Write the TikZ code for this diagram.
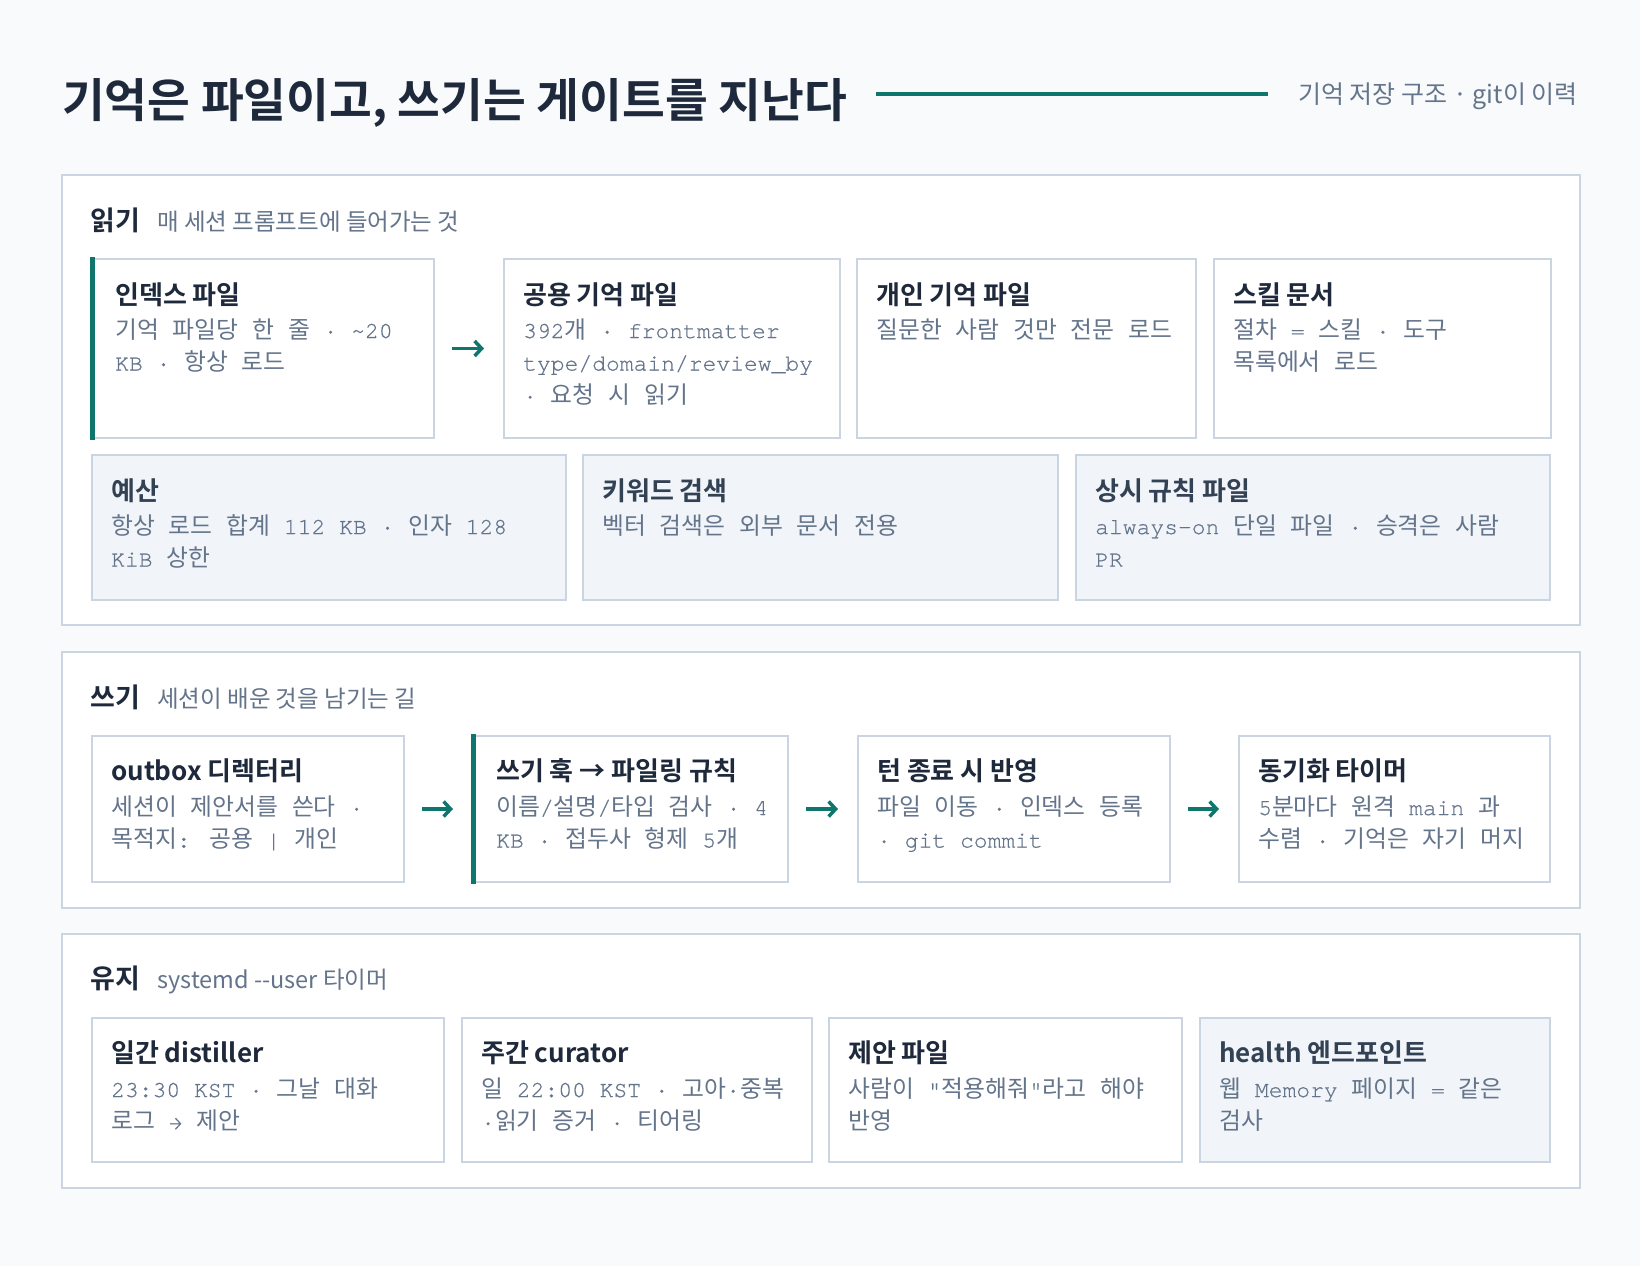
\documentclass[tikz,border=0pt]{standalone}
\usepackage{fontspec}
\setmainfont{Noto Sans CJK KR}[BoldFont={Noto Sans CJK KR Bold}]
\newfontfamily\krfont{Noto Sans CJK KR}[Scale=1.035]
\IfFontExistsTF{TeX Gyre Cursor}{\newfontfamily\cursorfont{TeX Gyre Cursor}[FakeBold=0.6]}{\newfontfamily\cursorfont{Liberation Mono}}
\usetikzlibrary{arrows.meta,calc}
\definecolor{pagebg}{HTML}{F8FAFC}
\definecolor{bordc}{HTML}{CBD5E1}
\definecolor{fillc}{HTML}{F1F5F9}
\definecolor{tealc}{HTML}{0F766E}
\definecolor{darkc}{HTML}{1E293B}
\definecolor{midc}{HTML}{334155}
\definecolor{greyc}{HTML}{64748B}

\newXeTeXintercharclass\KRclass
\makeatletter
\count@="AC00
\loop
  \XeTeXcharclass\count@=\KRclass
\ifnum\count@<"D7A3
  \advance\count@\@ne
\repeat
\makeatother
\XeTeXinterchartoks 0 \KRclass = {\krfont}
\XeTeXinterchartoks 4095 \KRclass = {\krfont}
\XeTeXinterchartoks \KRclass 0 = {\cursorfont}
\XeTeXinterchartoks \KRclass 4095 = {\cursorfont}

\newcommand\bodytxt[1]{\vtop{\XeTeXinterchartokenstate=1 \fontsize{23}{32.5}\selectfont\cursorfont\baselineskip=32.5pt\relax\halign{##\hfil\cr#1\crcr}}}

\tikzset{
  sect/.style={draw=bordc, line width=2pt, fill=white, inner sep=0pt, anchor=north west},
  card/.style={draw=bordc, line width=2pt, fill=white, inner sep=0pt, anchor=north west},
  cardf/.style={card, fill=fillc},
  ctitle/.style={anchor=base west, inner sep=0pt, text=darkc, font=\fontsize{26}{30}\selectfont\bfseries},
  ctitlef/.style={ctitle, text=midc},
  cbody/.style={anchor=base west, inner sep=0pt, text=greyc},
  slabel/.style={anchor=base west, inner sep=0pt, text=darkc, font=\fontsize{27}{32}\selectfont\bfseries},
  ssub/.style={anchor=base west, inner sep=0pt, text=greyc, font=\fontsize{23.5}{28}\selectfont},
  arr/.style={draw=tealc, line width=3.5pt, -{Straight Barb[length=7pt,width=15pt]}, shorten <=17pt, shorten >=19pt},
  tealbar/.style={fill=tealc}
}

\begin{document}
\begin{tikzpicture}[x=1pt,y=-1pt]
\fill[pagebg] (0,0) rectangle (1640,1266);
\useasboundingbox (0,0) rectangle (1640,1266);

% header
\node[anchor=base west, inner sep=0pt, text=darkc, font=\fontsize{46.5}{54}\selectfont\bfseries] (title) at (62,117) {기억은 파일이고, 쓰기는 게이트를 지난다};
\coordinate (rl) at (876,94);
\coordinate (rr) at (1268,94);
\draw[tealc, line width=4pt] (rl) -- (rr);
\node[anchor=base east, inner sep=0pt, text=greyc, font=\fontsize{25}{30}\selectfont] (sub) at (1578,103) {기억 저장 구조 · git이 이력};

% ===== section 1
\node[sect, minimum width=1518pt, minimum height=450pt] (s1) at (61,174) {};
\node[slabel] (s1l) at ($(s1.north west)+(29,56)$) {읽기};
\node[ssub] (s1s) at ($(s1l.base east)+(17,0)$) {매 세션 프롬프트에 들어가는 것};

\node[card, minimum width=342pt, minimum height=179pt] (r1) at (91,258) {};
\fill[tealbar] ($(r1.north west)+(-1,-1)$) rectangle ($(r1.south west)+(4,1)$);
\node[ctitle] (r1t) at ($(r1.north west)+(24,46)$) {인덱스 파일};
\node[cbody] (r1b) at ($(r1.north west)+(24,80)$) {\bodytxt{기억 파일당 한 줄 · \char"7E 20\cr KB · 항상 로드}};

\node[card, minimum width=336pt, minimum height=179pt] (r2) at (503,258) {};
\node[ctitle] (r2t) at ($(r2.north west)+(20,46)$) {공용 기억 파일};
\node[cbody] (r2b) at ($(r2.north west)+(20,80)$) {\bodytxt{392개 · frontmatter\cr type/domain/review\char"5F by\cr · 요청 시 읽기}};

\node[card, minimum width=339pt, minimum height=179pt] (r3) at (856,258) {};
\node[ctitle] (r3t) at ($(r3.north west)+(20,46)$) {개인 기억 파일};
\node[cbody] (r3b) at ($(r3.north west)+(20,80)$) {\bodytxt{질문한 사람 것만 전문 로드}};

\node[card, minimum width=337pt, minimum height=179pt] (r4) at (1213,258) {};
\node[ctitle] (r4t) at ($(r4.north west)+(20,46)$) {스킬 문서};
\node[cbody] (r4b) at ($(r4.north west)+(20,80)$) {\bodytxt{절차 = 스킬 · 도구\cr 목록에서 로드}};

\draw[arr] (r1.east) -- (r2.west);

\node[cardf, minimum width=474pt, minimum height=145pt] (r5) at (91,454) {};
\node[ctitlef] (r5t) at ($(r5.north west)+(20,46)$) {예산};
\node[cbody] (r5b) at ($(r5.north west)+(20,80)$) {\bodytxt{항상 로드 합계 112 KB · 인자 128\cr KiB 상한}};

\node[cardf, minimum width=475pt, minimum height=145pt] (r6) at (582,454) {};
\node[ctitlef] (r6t) at ($(r6.north west)+(20,46)$) {키워드 검색};
\node[cbody] (r6b) at ($(r6.north west)+(20,80)$) {\bodytxt{벡터 검색은 외부 문서 전용}};

\node[cardf, minimum width=474pt, minimum height=145pt] (r7) at (1075,454) {};
\node[ctitlef] (r7t) at ($(r7.north west)+(20,46)$) {상시 규칙 파일};
\node[cbody] (r7b) at ($(r7.north west)+(20,80)$) {\bodytxt{always-on 단일 파일 · 승격은 사람\cr PR}};

% ===== section 2
\node[sect, minimum width=1518pt, minimum height=256pt] (s2) at (61,651) {};
\node[slabel] (s2l) at ($(s2.north west)+(29,56)$) {쓰기};
\node[ssub] (s2s) at ($(s2l.base east)+(17,0)$) {세션이 배운 것을 남기는 길};

\node[card, minimum width=312pt, minimum height=146pt] (w1) at (91,735) {};
\node[ctitle] (w1t) at ($(w1.north west)+(20,45)$) {outbox 디렉터리};
\node[cbody] (w1b) at ($(w1.north west)+(20,80)$) {\bodytxt{세션이 제안서를 쓴다 ·\cr 목적지: 공용 | 개인}};

\node[card, minimum width=315pt, minimum height=146pt] (w2) at (472,735) {};
\fill[tealbar] ($(w2.north west)+(-1,-1)$) rectangle ($(w2.south west)+(4,1)$);
\node[ctitle] (w2t) at ($(w2.north west)+(24,45)$) {쓰기 훅 → 파일링 규칙};
\node[cbody] (w2b) at ($(w2.north west)+(24,80)$) {\bodytxt{이름/설명/타입 검사 · 4\cr KB · 접두사 형제 5개}};

\node[card, minimum width=312pt, minimum height=146pt] (w3) at (857,735) {};
\node[ctitle] (w3t) at ($(w3.north west)+(20,45)$) {턴 종료 시 반영};
\node[cbody] (w3b) at ($(w3.north west)+(20,80)$) {\bodytxt{파일 이동 · 인덱스 등록\cr · git commit}};

\node[card, minimum width=311pt, minimum height=146pt] (w4) at (1238,735) {};
\node[ctitle] (w4t) at ($(w4.north west)+(20,45)$) {동기화 타이머};
\node[cbody] (w4b) at ($(w4.north west)+(20,80)$) {\bodytxt{5분마다 원격 main 과\cr 수렴 · 기억은 자기 머지}};

\draw[arr] (w1.east) -- (w2.west);
\draw[arr] (w2.east) -- (w3.west);
\draw[arr] (w3.east) -- (w4.west);

% ===== section 3
\node[sect, minimum width=1518pt, minimum height=254pt] (s3) at (61,933) {};
\node[slabel] (s3l) at ($(s3.north west)+(29,55)$) {유지};
\node[ssub] (s3s) at ($(s3l.base east)+(17,0)$) {systemd -{}-user 타이머};

\node[card, minimum width=352pt, minimum height=144pt] (m1) at (91,1017) {};
\node[ctitle] (m1t) at ($(m1.north west)+(20,45)$) {일간 distiller};
\node[cbody] (m1b) at ($(m1.north west)+(20,80)$) {\bodytxt{23:30 KST · 그날 대화\cr 로그 → 제안}};

\node[card, minimum width=350pt, minimum height=144pt] (m2) at (461,1017) {};
\node[ctitle] (m2t) at ($(m2.north west)+(20,45)$) {주간 curator};
\node[cbody] (m2b) at ($(m2.north west)+(20,80)$) {\bodytxt{일 22:00 KST · 고아·중복\cr ·읽기 증거 · 티어링}};

\node[card, minimum width=353pt, minimum height=144pt] (m3) at (828,1017) {};
\node[ctitle] (m3t) at ($(m3.north west)+(20,45)$) {제안 파일};
\node[cbody] (m3b) at ($(m3.north west)+(20,80)$) {\bodytxt{사람이 "적용해줘"라고 해야\cr 반영}};

\node[cardf, minimum width=350pt, minimum height=144pt] (m4) at (1199,1017) {};
\node[ctitlef] (m4t) at ($(m4.north west)+(20,45)$) {health 엔드포인트};
\node[cbody] (m4b) at ($(m4.north west)+(20,80)$) {\bodytxt{웹 Memory 페이지 = 같은\cr 검사}};
\end{tikzpicture}
\end{document}
